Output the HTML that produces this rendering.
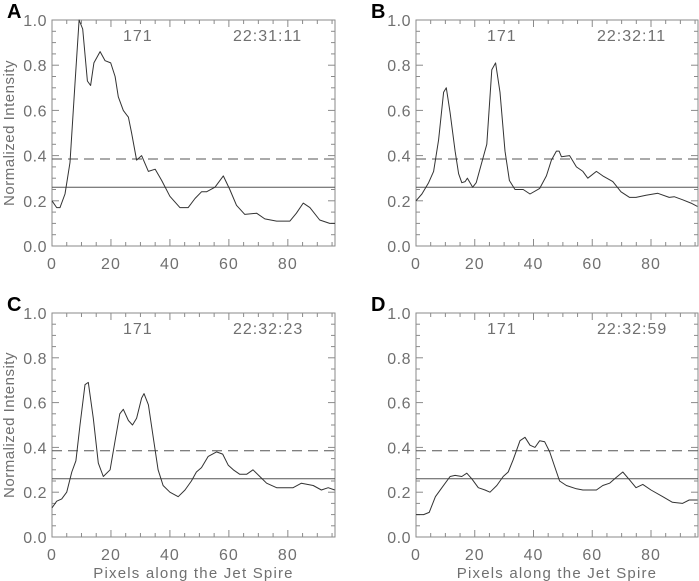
<!DOCTYPE html>
<html><head><meta charset="utf-8"><style>
html,body{margin:0;padding:0;background:#fff;}
svg{display:block;font-family:"Liberation Sans",sans-serif;}
</style></head><body>
<svg id="fig" width="699" height="581" viewBox="0 0 699 581"></svg>
<script>
const xA=[0,1.6,2.7,4.4,6.1,7.8,9.2,10.4,12,13.1,14.2,16.3,18,19.9,21.4,22.5,24.2,25.9,27,28.7,30.4,32.7,35,37.2,40,43.4,46.2,48.5,50.7,52.4,55.3,58.1,60.3,62.6,65.4,69.4,72.2,76.2,80.7,82.9,85.2,87.5,90.8,94.2,96];
const yA=[0.2,0.17,0.17,0.23,0.37,0.72,1.0,0.96,0.73,0.71,0.81,0.86,0.82,0.81,0.75,0.66,0.6,0.57,0.5,0.38,0.40,0.33,0.34,0.29,0.22,0.17,0.17,0.21,0.24,0.24,0.26,0.31,0.25,0.18,0.14,0.145,0.12,0.11,0.11,0.145,0.19,0.17,0.115,0.10,0.10];
const xB=[0,2,4.3,6,7.7,9.4,10.3,11.6,13.3,14.5,15.6,16.7,17.5,19.3,20.5,22.4,24.1,25.8,27.1,28.6,30.3,31.8,33.7,35.4,36.5,38.8,42.1,44.4,46.1,47.8,48.7,49.5,52.3,54.6,56.8,58.5,61.4,63.6,67,69.8,72.7,74.9,78.3,82.3,86.2,87.9,90.7,93.6,95.8];
const yB=[0.2,0.23,0.28,0.33,0.47,0.68,0.70,0.59,0.42,0.32,0.28,0.285,0.30,0.26,0.28,0.37,0.45,0.78,0.81,0.68,0.42,0.29,0.25,0.25,0.25,0.23,0.255,0.31,0.38,0.42,0.42,0.395,0.40,0.35,0.33,0.30,0.33,0.31,0.285,0.24,0.215,0.215,0.225,0.233,0.215,0.218,0.205,0.19,0.175];
const xC=[0,1.6,3.3,5,6.7,8.1,9.5,11.2,12.3,14,15.7,17.4,19.7,21.4,23,24.2,25.9,27.3,28.7,30.4,31.2,32.7,34.4,36,37.7,40,42.8,45.1,47.3,49,50.7,53,55.8,57.9,59.8,61.5,63.7,66,68.2,70.5,72.8,76.2,79.5,81.8,84.6,88.6,91.4,93.7,95.9];
const yC=[0.13,0.16,0.17,0.2,0.29,0.34,0.5,0.68,0.69,0.53,0.33,0.27,0.30,0.43,0.55,0.57,0.52,0.50,0.53,0.62,0.64,0.59,0.44,0.30,0.23,0.2,0.18,0.21,0.25,0.29,0.31,0.36,0.38,0.37,0.32,0.30,0.28,0.28,0.30,0.27,0.24,0.22,0.22,0.22,0.24,0.23,0.21,0.22,0.21];
const xD=[0,2.6,4.5,6.6,8.8,11.6,13.3,15.6,17.3,19,21.2,23.5,25.2,27.5,29.7,31.4,33.1,35.4,37.1,38.8,40.5,42.1,43.8,45.5,47.2,48.9,51.2,54.6,56.8,59.1,61.4,63.6,65.9,68.1,70.4,72.7,74.9,77.2,80,84,87.3,90.7,93,95.8];
const yD=[0.10,0.10,0.11,0.18,0.22,0.27,0.275,0.27,0.285,0.26,0.22,0.21,0.20,0.23,0.27,0.29,0.345,0.43,0.445,0.41,0.40,0.43,0.425,0.38,0.315,0.25,0.23,0.215,0.21,0.21,0.21,0.23,0.24,0.265,0.29,0.255,0.22,0.235,0.21,0.18,0.155,0.15,0.165,0.165];
const xTicks=[0,20,40,60,80];
const yTicks=[0.0,0.2,0.4,0.6,0.8,1.0];
const dashedLevel=0.385, solidLevel=0.26;
const times=["22:31:11","22:32:11","22:32:23","22:32:59"];
const letters=["A","B","C","D"];

const NS="http://www.w3.org/2000/svg";
const svg=document.getElementById('fig');
function mk(tag,attrs,parent){const e=document.createElementNS(NS,tag);for(const k in attrs)e.setAttribute(k,attrs[k]);(parent||svg).appendChild(e);return e;}
const panels=[
 {L:52,T:20,W:283,H:226,xs:xA,ys:yA,ytitle:true,xtitle:false},
 {L:416,T:20,W:282,H:226,xs:xB,ys:yB,ytitle:false,xtitle:false},
 {L:52,T:313,W:283,H:224,xs:xC,ys:yC,ytitle:true,xtitle:true},
 {L:416,T:313,W:282,H:224,xs:xD,ys:yD,ytitle:false,xtitle:true}];
const XMAX=96;
panels.forEach((p,i)=>{
 const g=mk('g',{});
 
 
 const sx=v=>p.L+v/XMAX*p.W, sy=v=>p.T+p.H-v*p.H;
 const ax='#8a8a8a';
 const frame=mk('rect',{x:p.L,y:p.T,width:p.W,height:p.H,fill:'none',stroke:ax,'stroke-width':1},g);
 
 
 for(let v=0;v<=XMAX;v+=5){const big=v%20===0;const L=big?7:4;
  mk('line',{x1:sx(v),x2:sx(v),y1:p.T+p.H,y2:p.T+p.H-L,stroke:ax},g);
  mk('line',{x1:sx(v),x2:sx(v),y1:p.T,y2:p.T+L,stroke:ax},g);}
 for(let k=0;k<=20;k++){const v=k*0.05;const big=k%4===0;const L=big?7:4;
  mk('line',{x1:p.L,x2:p.L+L,y1:sy(v),y2:sy(v),stroke:ax},g);
  mk('line',{x1:p.L+p.W,x2:p.L+p.W-L,y1:sy(v),y2:sy(v),stroke:ax},g);}
 xTicks.forEach(v=>{const t=mk('text',{x:sx(v),y:p.T+p.H+23,'text-anchor':'middle','font-size':16,fill:'#707070','letter-spacing':'1'},g);t.textContent=v;
  
  });
 yTicks.forEach(v=>{const t=mk('text',{x:p.L-5,y:sy(v)+6,'text-anchor':'end','font-size':16,fill:'#707070','letter-spacing':'0.5'},g);t.textContent=v.toFixed(1);
  
  });
 const dl=mk('line',{x1:p.L,x2:p.L+p.W,y1:sy(dashedLevel),y2:sy(dashedLevel),stroke:'#555','stroke-dasharray':'10,6'},g);
 
 
 const sl=mk('line',{x1:p.L,x2:p.L+p.W,y1:sy(solidLevel),y2:sy(solidLevel),stroke:'#555'},g);
 
 
 const d=p.xs.map((x,j)=>(j?'L':'M')+sx(x).toFixed(1)+','+sy(p.ys[j]).toFixed(1)).join('');
 const line=mk('path',{d:d,fill:'none',stroke:'#333','stroke-width':1,'stroke-linejoin':'round'},g);
 
 
 const t1=mk('text',{x:p.L+71,y:p.T+21,'font-size':16,fill:'#707070','letter-spacing':'1'},g);t1.textContent='171';
 
 
 const t2=mk('text',{x:p.L+181,y:p.T+21,'font-size':16,fill:'#707070','letter-spacing':'1'},g);t2.textContent=times[i];
 
 
 const pl=mk('text',{x:p.L-45,y:p.T-2,'font-size':20,'font-weight':'bold',fill:'#000'},g);pl.textContent=letters[i];
 
 
 if(p.ytitle){const yt=mk('text',{x:0,y:0,'text-anchor':'middle','font-size':15,fill:'#707070','letter-spacing':'0.5',transform:`translate(14,${p.T+p.H/2}) rotate(-90)`},g);yt.textContent='Normalized Intensity';
  
  }
 if(p.xtitle){const xt=mk('text',{x:p.L+p.W/2,y:578,'text-anchor':'middle','font-size':15,fill:'#707070','letter-spacing':'1.2'},g);xt.textContent='Pixels along the Jet Spire';
  
  }
});
</script>
</body></html>
